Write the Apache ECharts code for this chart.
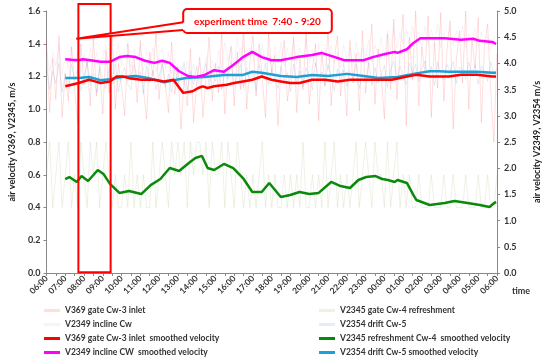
<!DOCTYPE html>
<html>
<head>
<meta charset="utf-8">
<script src="https://cdn.jsdelivr.net/npm/echarts@6/dist/echarts.min.js"></script>
<style>
html,body{margin:0;padding:0;background:#fff;}
#c{width:550px;height:362px;}
</style>
</head>
<body>
<div id="c"></div>
<script>
// ---- tick labels ----
const tickLabels = ["06:00","07:00","08:00","09:00","10:00","11:00","12:00","13:00","14:00","15:00","16:00","17:00","18:00","19:00","20:00","21:00","22:00","23:00","00:00","01:00","02:00","03:00","04:00","05:00","06:00"];

// ---- raw series (10-minute samples from 06:00 to 06:00) ----
const rawStepMin = 10;
const rawV369 = [
1.42,0.98,1.31,1.06,1.45,0.95,1.22,
1.05,1.38,1.12,0.92,1.40,1.15,
1.30,1.02,1.44,1.08,1.25,0.97,
1.36,1.10,1.47,1.00,1.28,1.14,
0.96,1.40,1.18,1.33,1.04,1.42,
1.12,0.94,1.35,1.20,1.46,1.06,
1.30,1.15,0.98,1.41,1.09,1.26,
0.88,1.18,1.02,1.37,0.92,1.15,
1.32,0.95,1.20,1.44,1.05,1.28,
1.10,1.48,0.97,1.25,1.38,1.02,
1.35,1.12,1.50,1.00,1.29,1.45,
1.08,1.40,1.18,0.95,1.46,1.22,
1.33,0.90,1.27,1.42,1.05,1.20,
1.44,0.98,1.31,1.12,1.47,1.03,
1.25,1.40,0.93,1.36,1.14,1.49,
1.02,1.30,1.45,1.08,1.24,0.96,
1.42,1.16,1.34,0.99,1.48,1.10,
1.28,1.52,1.03,1.37,1.20,0.94,
1.46,1.12,1.55,1.06,1.33,1.58,
0.90,1.44,1.18,1.60,1.02,1.38,
1.22,1.57,0.95,1.41,1.13,1.59,
1.05,1.36,1.54,0.88,1.30,1.48,
1.16,1.60,1.00,1.43,1.25,1.56,
0.92,1.39,1.52,1.10,0.80,1.34];
const rawV2349 = [
4.30,3.85,4.20,3.95,4.35,3.80,4.15,
3.90,4.32,4.00,4.25,3.82,4.18,
3.96,4.30,3.85,4.22,3.92,4.12,
4.35,3.88,4.26,4.02,4.38,3.95,
4.20,4.40,3.92,4.28,4.05,4.34,
3.86,4.22,3.98,4.30,3.84,4.16,
4.28,3.90,4.20,3.80,4.10,3.72,
3.95,3.62,4.05,3.70,3.98,3.58,
4.02,3.75,4.12,3.66,4.05,3.85,
4.25,3.90,4.40,4.05,4.35,3.98,
4.48,4.10,4.38,3.96,4.30,4.02,
4.28,3.92,4.36,3.98,4.22,3.86,
4.32,4.00,4.40,3.95,4.28,4.06,
4.42,3.98,4.30,4.10,4.46,4.02,
4.26,3.94,4.38,4.05,4.30,3.88,
4.34,4.00,4.22,3.92,4.36,4.08,
4.30,3.96,4.42,4.05,4.28,4.12,
4.45,4.02,4.35,4.15,4.50,4.08,
4.62,4.25,4.70,4.30,4.58,4.38,
4.66,4.32,4.72,4.40,4.60,4.28,
4.70,4.36,4.64,4.42,4.74,4.30,
4.58,4.46,4.68,4.34,4.62,4.40,
4.72,4.28,4.56,4.44,4.66,4.32,
4.60,4.38,4.52,4.26,4.48,4.35];
const rawV2345 = [
0.6,0.8,0.4,0.6,0.8,0.4,0.6,
0.8,0.4,0.6,0.4,0.8,0.6,
0.4,0.8,0.6,0.8,0.4,0.6,
0.8,0.6,0.4,0.6,0.4,0.4,
0.6,0.4,0.8,0.4,0.6,0.4,
0.6,0.4,0.4,0.8,0.4,0.6,
0.8,0.6,0.4,0.8,0.6,0.8,
0.6,0.8,0.4,0.8,0.6,0.8,
0.8,0.6,0.8,0.4,0.8,0.6,
0.6,0.8,0.4,0.8,0.6,0.4,
0.8,0.6,0.4,0.6,0.4,0.6,
0.4,0.6,0.8,0.4,0.6,0.4,
0.6,0.4,0.4,0.6,0.4,0.6,
0.4,0.6,0.4,0.8,0.4,0.4,
0.6,0.4,0.6,0.4,0.8,0.4,
0.6,0.8,0.4,0.6,0.4,0.6,
0.4,0.6,0.8,0.4,0.6,0.8,
0.6,0.4,0.8,0.6,0.6,0.4,
0.8,0.4,0.6,0.8,0.4,0.6,
0.4,0.6,0.4,0.4,0.6,0.4,
0.4,0.4,0.6,0.4,0.4,0.4,
0.6,0.4,0.4,0.6,0.4,0.4,
0.4,0.6,0.4,0.4,0.4,0.6,
0.4,0.4,0.6,0.4,0.4,0.6];
const rawV2354 = [
3.95,3.50,3.85,3.62,4.00,3.45,3.80,
3.55,3.98,3.68,3.90,3.48,3.75,
4.02,3.58,3.82,3.44,3.96,3.66,
3.52,3.88,3.70,4.00,3.46,3.78,
3.92,3.60,3.50,3.97,3.72,3.84,
3.42,3.95,3.64,3.86,3.50,3.74,
3.98,3.55,3.80,3.45,3.90,3.62,
3.70,4.02,3.48,3.85,3.60,3.94,
3.52,3.78,4.00,3.57,3.88,3.66,
3.95,3.50,3.83,3.70,4.03,3.58,
3.76,3.98,3.54,3.92,3.65,3.85,
3.48,3.96,3.74,4.00,3.60,3.88,
3.70,3.52,3.94,3.68,3.82,3.46,
3.99,3.62,3.86,3.55,3.92,3.72,
3.50,4.01,3.66,3.84,3.58,3.97,
3.75,3.48,3.90,3.64,4.00,3.56,
3.86,3.70,3.98,3.52,3.80,3.66,
4.02,3.58,3.92,3.62,3.78,3.96,
3.55,3.88,4.04,3.68,3.95,3.74,
3.60,4.00,3.82,3.98,3.66,3.90,
4.05,3.72,3.94,3.58,4.02,3.80,
3.68,3.98,3.86,4.04,3.62,3.92,
3.88,3.70,4.02,3.76,3.96,3.60,
3.95,3.82,3.66,4.03,3.78,3.90];

// ---- smoothed series ----
const smV369Time = ["07:00","07:20","07:43","08:16","08:35","08:53","09:23","09:44","10:05","10:24","11:03","11:45","12:16","12:46","13:01","13:17","13:47","14:05","14:20","14:35","14:56","15:36","16:00","16:28","16:58","17:28","17:59","18:29","18:59","19:29","20:09","20:51","21:31","22:10","23:02","23:41","00:24","01:12","01:42","02:25","03:26","04:05","04:56","05:45","05:57"];
const smV369 = [1.14,1.15,1.16,1.18,1.17,1.16,1.17,1.20,1.20,1.19,1.18,1.18,1.17,1.18,1.14,1.10,1.11,1.13,1.14,1.13,1.14,1.15,1.16,1.17,1.18,1.20,1.18,1.17,1.16,1.16,1.18,1.18,1.17,1.18,1.18,1.18,1.18,1.20,1.21,1.20,1.20,1.21,1.21,1.20,1.20];

const smV2349Time = ["07:00","07:20","07:43","07:56","08:20","08:53","09:23","09:53","10:18","10:45","11:15","11:45","12:10","12:34","13:04","13:32","13:56","14:26","14:56","15:27","15:57","16:28","16:58","17:28","17:59","18:29","19:20","20:09","20:39","21:22","21:52","22:53","23:23","00:02","00:33","00:42","01:12","01:33","01:55","02:25","03:13","04:05","04:44","05:05","05:45","05:57"];
const smV2349 = [4.08,4.07,4.06,4.08,4.06,4.03,4.03,4.12,4.14,4.12,4.05,4.01,4.05,4.01,3.85,3.76,3.74,3.78,3.87,3.84,3.97,4.12,4.22,4.12,4.06,4.06,4.12,4.16,4.20,4.12,4.06,4.06,4.12,4.18,4.22,4.20,4.27,4.39,4.48,4.48,4.48,4.45,4.47,4.43,4.41,4.37];

const smV2345Time = ["07:00","07:13","07:37","07:52","08:13","08:44","09:02","09:23","09:53","10:24","11:03","11:33","12:04","12:34","13:04","13:35","13:56","14:17","14:35","14:56","15:27","15:57","16:28","16:58","17:28","17:52","18:29","18:59","19:29","20:00","20:30","21:10","21:40","22:10","22:37","23:02","23:32","23:53","00:11","00:33","00:42","01:12","01:33","01:42","02:25","03:13","03:44","04:26","05:05","05:36","05:51","05:57"];
const smV2345 = [0.574,0.586,0.556,0.592,0.562,0.629,0.605,0.544,0.489,0.501,0.482,0.537,0.574,0.641,0.623,0.672,0.702,0.715,0.641,0.629,0.666,0.641,0.580,0.495,0.495,0.550,0.464,0.476,0.495,0.482,0.489,0.556,0.531,0.519,0.568,0.586,0.592,0.574,0.568,0.556,0.568,0.550,0.476,0.446,0.415,0.427,0.440,0.427,0.415,0.403,0.427,0.434];

const smV2354Time = ["07:00","07:43","08:16","08:53","09:23","10:03","10:45","11:24","12:16","12:46","13:26","14:26","15:27","16:28","16:58","17:28","18:29","19:20","20:09","21:00","22:01","22:53","23:41","00:42","01:33","02:25","02:55","03:26","04:05","04:56","05:45","05:57"];
const smV2354 = [3.72,3.72,3.74,3.68,3.70,3.74,3.76,3.72,3.64,3.68,3.72,3.74,3.78,3.78,3.84,3.82,3.76,3.74,3.78,3.76,3.80,3.76,3.72,3.74,3.80,3.85,3.85,3.84,3.84,3.84,3.82,3.82];

// ---- annotation ----
const experimentLabel = "experiment time  7:40 - 9:20";
const experimentStart = "07:42", experimentEnd = "09:25";

const names = {
  r369: "V369 gate Cw-3 inlet",
  r2349: "V2349 incline Cw",
  s369: "V369 gate Cw-3 inlet  smoothed velocity",
  s2349: "V2349 incline CW  smoothed velocity",
  r2345: "V2345 gate Cw-4 refreshment",
  r2354: "V2354 drift Cw-5",
  s2345: "V2345 refreshment Cw-4  smoothed velocity",
  s2354: "V2354 drift Cw-5 smoothed velocity"
};
const legendLeftCol = [names.r369, names.r2349, names.s369, names.s2349];
const legendRightCol = [names.r2345, names.r2354, names.s2345, names.s2354];

function toMin(s){
  const p = s.split(":");
  let m = (+p[0])*60 + (+p[1]) - 360;
  if (m < 0) m += 1440;
  return m;
}
function rawPairs(arr){ return arr.map((v,i)=>[i*rawStepMin, v]); }
function smPairs(t, v){ return t.map((s,i)=>[toMin(s), v[i]]); }

const FONT = "Lato";
const chart = echarts.init(document.getElementById('c'), null, {renderer:'canvas'});

const legendText = {fontFamily: FONT, fontWeight: 'bold', fontSize: 8.5, color: '#333'};
const rowTops = [306, 320, 334, 348];
const legends = [];
legendLeftCol.forEach((n,i)=>legends.push({left: 44, top: rowTops[i], padding:0, itemWidth: 16, itemHeight: 3, icon:'rect', textStyle: legendText, data:[n]}));
legendRightCol.forEach((n,i)=>legends.push({left: 319, top: rowTops[i], padding:0, itemWidth: 16, itemHeight: 3, icon:'rect', textStyle: legendText, data:[n]}));

const option = {
  animation: false,
  backgroundColor: '#fff',
  textStyle: {fontFamily: FONT},
  grid: {left: 33, right: 43, top: 11, bottom: 89, containLabel: false},
  legend: legends,
  xAxis: {
    type: 'value', min: 0, max: 1440, interval: 60,
    name: 'time', nameLocation: 'end', nameGap: 15,
    nameTextStyle: {fontFamily: FONT, fontWeight:'bold', fontSize: 9, color:'#333', verticalAlign:'top', padding:[14,0,0,0]},
    axisLine: {show: true, lineStyle: {color: '#888', width: 1}},
    axisTick: {show: true, length: 3, lineStyle:{color:'#888'}},
    minorTick: {show: true, splitNumber: 2, length: 3, lineStyle:{color:'#888'}},
    splitLine: {show: false},
    axisLabel: {
      rotate: 45, fontFamily: FONT, fontWeight: 'bold', fontSize: 8.5, color: '#333', margin: 4,
      formatter: v => tickLabels[Math.round(v/60)]
    }
  },
  yAxis: [
    {type:'value', min:0, max:1.6, interval:0.2, position:'left',
     name: 'air velocity V369, V2345, m/s', nameLocation:'middle', nameGap: 21,
     nameTextStyle: {fontFamily: FONT, fontWeight:'bold', fontSize: 9, color:'#222'},
     axisLine:{show:true, lineStyle:{color:'#888'}}, axisTick:{show:true, length:3, lineStyle:{color:'#888'}},
     splitLine:{show:false},
     axisLabel:{fontFamily: FONT, fontWeight:'bold', fontSize:9, color:'#333', margin:6, formatter: v=>v.toFixed(1)}},
    {type:'value', min:0, max:5, interval:0.5, position:'right',
     name: 'air velocity V2349, V2354 m/s', nameLocation:'middle', nameGap: 36,
     nameTextStyle: {fontFamily: FONT, fontWeight:'bold', fontSize: 9, color:'#222'},
     axisLine:{show:true, lineStyle:{color:'#888'}}, axisTick:{show:true, length:3, lineStyle:{color:'#888'}},
     splitLine:{show:false},
     axisLabel:{fontFamily: FONT, fontWeight:'bold', fontSize:9, color:'#333', margin:7, formatter: v=>v.toFixed(1)}}
  ],
  series: [
    {name: names.r369, type:'line', yAxisIndex:0, data: rawPairs(rawV369), symbol:'none',
     color:'rgba(255,0,0,0.13)', lineStyle:{width:1, color:'rgba(255,0,0,0.13)'}},
    {name: names.r2349, type:'line', yAxisIndex:1, data: rawPairs(rawV2349), symbol:'none',
     color:'rgba(190,110,200,0.09)', lineStyle:{width:1, color:'rgba(190,110,200,0.09)'}},
    {name: names.r2345, type:'line', yAxisIndex:0, data: rawPairs(rawV2345), symbol:'none',
     color:'rgba(140,170,80,0.15)', lineStyle:{width:1, color:'rgba(140,170,80,0.15)'}},
    {name: names.r2354, type:'line', yAxisIndex:1, data: rawPairs(rawV2354), symbol:'none',
     color:'rgba(70,120,200,0.14)', lineStyle:{width:1, color:'rgba(70,120,200,0.14)'}},
    {name: names.s2345, type:'line', yAxisIndex:0, data: smPairs(smV2345Time, smV2345), symbol:'none',
     color:'#0a8a0a', lineStyle:{width:2.5, color:'#0a8a0a'}},
    {name: names.s2354, type:'line', yAxisIndex:1, data: smPairs(smV2354Time, smV2354), symbol:'none',
     color:'#1e9fd6', lineStyle:{width:2.5, color:'#1e9fd6'}},
    {name: names.s369, type:'line', yAxisIndex:0, data: smPairs(smV369Time, smV369), symbol:'none',
     color:'#ff0000', lineStyle:{width:2.5, color:'#ff0000'}},
    {name: names.s2349, type:'line', yAxisIndex:1, data: smPairs(smV2349Time, smV2349), symbol:'none',
     color:'#ff00ff', lineStyle:{width:2.5, color:'#ff00ff'}}
  ]
};
chart.setOption(option);

// experiment rectangle and callout, placed through the axes' scales
const px = (t, v) => chart.convertToPixel({xAxisIndex:0, yAxisIndex:0}, [toMin(t), v]);
const rA = px(experimentStart, 1.643), rB = px(experimentEnd, 0.005);
const tip = px("07:35", 1.43);
const tl = px("13:17", 1.612);
const br = px("21:12", 1.466);
const L = tl[0], T = tl[1], R = br[0], B = br[1];
const y1 = T + (B - T) * 0.55, y2 = B - 3;
chart.setOption({
  graphic: [
    {type:'rect', z:100, shape:{x:rA[0], y:rA[1], width:rB[0]-rA[0], height:rB[1]-rA[1]},
     style:{fill:'none', stroke:'#ff0000', lineWidth:2}},
    {type:'rect', z:100, shape:{x:L, y:T, width:R-L, height:B-T, r:4},
     style:{fill:'#fff', stroke:'#ff0000', lineWidth:2}},
    {type:'polygon', z:101, shape:{points:[[L+2,y1],[tip[0],tip[1]],[L+2,y2]]},
     style:{fill:'#fff', stroke:null}},
    {type:'polyline', z:102, shape:{points:[[L,y1],[tip[0],tip[1]],[L,y2]]},
     style:{fill:null, stroke:'#ff0000', lineWidth:2}},
    {type:'text', x:(L+R)/2, y:(T+B)/2 + 1, z:103,
     style:{text: experimentLabel, fill:'#ff0000', font:`bold 10px ${FONT}`, align:'center', verticalAlign:'middle'}}
  ]
});
</script>
</body>
</html>
